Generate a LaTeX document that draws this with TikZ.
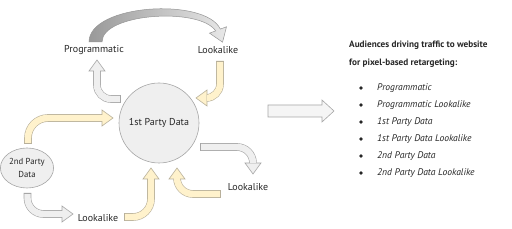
\documentclass[tikz,border=0pt]{standalone}
\usepackage{fontspec}
\setmainfont{PT Sans}
\usetikzlibrary{positioning,shapes.geometric,calc}
\definecolor{yelfill}{HTML}{FFF2CC}
\definecolor{yelline}{HTML}{B8B09A}
\definecolor{gryfill}{HTML}{EFEFEF}
\definecolor{gryline}{HTML}{A6A6A6}
\definecolor{arcdark}{HTML}{999999}
\definecolor{arclight}{HTML}{E8E8E8}
\definecolor{ink}{HTML}{262626}
\tikzset{
  tag/.style={font=\fontsize{10}{12}\selectfont, text=ink, inner sep=1pt},
  blob/.style={draw=gryline, fill=gryfill, line width=0.6pt, inner sep=0pt},
  band/.style={draw=#1line, double=#1fill, double distance=6.4pt, line width=0.6pt},
  pics/head/.style={code={
    \filldraw[fill=#1fill, draw=#1line, line width=0.6pt, line join=miter]
      (0pt,-8pt) -- (11pt,0pt) -- (0pt,8pt) -- cycle;
    \fill[#1fill] (-1pt,-3.2pt) rectangle (0.5pt,3.2pt);
  }},
  pics/tail/.style={code={
    \draw[#1line, line width=0.6pt] (0pt,-3.8pt) -- (0pt,3.8pt);
  }},
  title/.style={font=\fontsize{9.2}{11}\selectfont\bfseries, text=ink, anchor=base west, inner sep=0pt},
  item/.style={font=\fontsize{9.6}{11}\selectfont\itshape, text=ink, anchor=base west, inner sep=0pt},
}
\begin{document}
\begin{tikzpicture}[x=1pt, y=1pt]
\useasboundingbox (0,0) rectangle (512,229);

% ---- the data sources ----------------------------------------------------
\node[blob, circle, minimum size=80pt, tag] (first) at (159,106) {1st Party Data};
\node[blob, ellipse, minimum width=47pt, minimum height=40pt, tag,
      font=\fontsize{8.7}{13}\selectfont, align=center] (second) at (27,61) {2nd Party\\Data};
\node[tag] (prog) at (94,179) {Programmatic};
\node[tag] (lookT) at (218,179) {Lookalike};
\node[tag] (lookB) at (98,11) {Lookalike};
\node[tag] (lookR) at (248,42) {Lookalike};

% ---- arc from Programmatic over to its lookalike --------------------------
\draw[draw=gryline!90!black, line width=0.5pt, left color=arcdark, right color=arclight]
  (89,187) .. controls (89,225) and (205,232) .. (220.35,199.9)
  -- (226.5,202.2) -- (222.55,186.8) -- (209.5,195.85) -- (215.65,198.1)
  .. controls (200,222) and (102,216) .. (102,187) -- cycle;

% ---- bent arrows: ends of each band --------------------------------------
\coordinate (a1) at (120,130); \coordinate (b1) at (97,158);
\coordinate (a2) at (220,168); \coordinate (b2) at (207,131);
\coordinate (a3) at (28,86);   \coordinate (b3) at (102,111);
\coordinate (a4) at (27.5,36); \coordinate (b4) at (62,15);
\coordinate (a5) at (124,12);  \coordinate (b5) at (151,50);
\coordinate (a6) at (220,35);  \coordinate (b6) at (177,50);
\coordinate (a7) at (200,82);  \coordinate (b7) at (253,66);

\draw[band=gry, rounded corners=14pt] (a1) -| (b1);
\draw[band=yel, rounded corners=14pt] (a2) |- (b2);
\draw[band=yel, rounded corners=20pt] (a3) |- (b3);
\draw[band=gry, rounded corners=16pt] (a4) |- (b4);
\draw[band=yel, rounded corners=18pt] (a5) -| (b5);
\draw[band=yel, rounded corners=16pt] (a6) -| (b6);
\draw[band=gry, rounded corners=16pt] (a7) -| (b7);

\pic at (a1) {tail=gry};            \pic[rotate=90] at (b1) {head=gry};
\pic[rotate=90] at (a2) {tail=yel}; \pic[rotate=180] at (b2) {head=yel};
\pic[rotate=90] at (a3) {tail=yel}; \pic at (b3) {head=yel};
\pic[rotate=90] at (a4) {tail=gry}; \pic at (b4) {head=gry};
\pic at (a5) {tail=yel};            \pic[rotate=90] at (b5) {head=yel};
\pic at (a6) {tail=yel};            \pic[rotate=90] at (b6) {head=yel};
\pic at (a7) {tail=gry};            \pic[rotate=-90] at (b7) {head=gry};

% ---- big arrow to the audience list --------------------------------------
\draw[gryline, line width=0.6pt, fill=gryfill!60]
  (268,112) -- (322,112) -- (322,107) -- (334,118) -- (322,129) -- (322,124) -- (268,124) -- cycle;

% ---- audience list --------------------------------------------------------
\node[title] (title1) at (349,181) {Audiences driving traffic to website};
\node[title] (title2) at (349,163) {for pixel-based retargeting:};
\foreach \t [count=\i] in {Programmatic, Programmatic Lookalike, 1st Party Data,
    1st Party Data Lookalike, 2nd Party Data, 2nd Party Data Lookalike} {
  \node[item] (item\i) at (377,{155-17*\i}) {\t};
  \fill[ink] (361,{158-17*\i}) circle (1.8pt);
}
\end{tikzpicture}
\end{document}
